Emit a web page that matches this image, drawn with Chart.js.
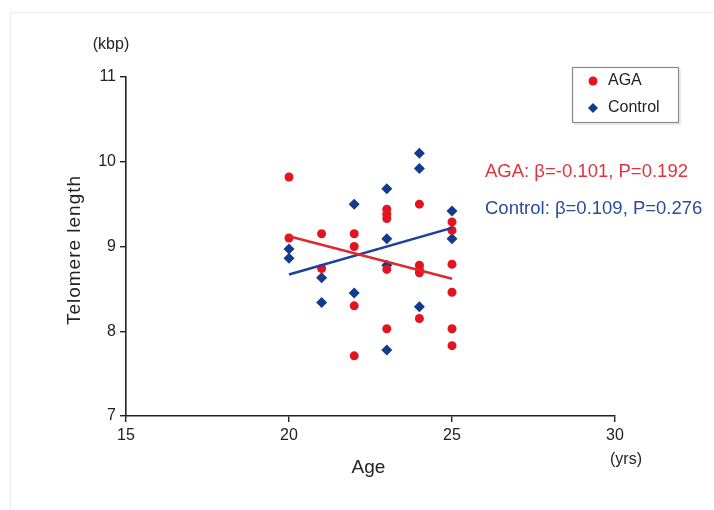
<!DOCTYPE html>
<html>
<head>
<meta charset="utf-8">
<script src="https://cdn.jsdelivr.net/npm/chart.js@4/dist/chart.umd.min.js"></script>
<style>
  html, body { margin: 0; padding: 0; background: #fff; }
  #wrap { position: relative; width: 714px; height: 510px; }
  #frame { position: absolute; left: 10px; top: 12px; right: 0; bottom: 0;
           border-left: 1px solid #ececec; border-top: 1px solid #ececec; }
</style>
</head>
<body>
<div id="wrap">
  <div id="frame"></div>
  <canvas id="telomereChart" width="714" height="510"></canvas>
</div>
<script>
    // data
    const agaAge = [20, 20, 21, 21, 22, 22, 22, 22, 23, 23, 23, 23, 23, 24, 24, 24, 24, 24, 25, 25, 25, 25, 25, 25];
    const agaTL  = [9.82, 9.10, 9.15, 8.74, 9.15, 9.00, 8.30, 7.71, 9.44, 9.38, 9.33, 8.73, 8.03, 9.50, 8.78, 8.73, 8.69, 8.15, 9.29, 9.19, 8.79, 8.46, 8.03, 7.83];
    const ctrlAge = [20, 20, 21, 21, 22, 22, 23, 23, 23, 23, 24, 24, 24, 25, 25];
    const ctrlTL  = [8.97, 8.86, 8.63, 8.34, 9.50, 8.45, 9.68, 9.09, 8.78, 7.78, 10.10, 9.92, 8.29, 9.42, 9.09];

    // regression lines (end points)
    const fitAge = [20, 25];
    const agaFit = [9.12, 8.62];
    const ctrlFit = [8.67, 9.22];

    const xTicks = [15, 20, 25, 30];
    const yTicks = [7, 8, 9, 10, 11];

    const RED = '#e3141f';
    const BLUE = '#143a8e';
    const FONT = '"Liberation Sans", Arial, sans-serif';

    const toPts = (xs, ys) => xs.map((x, i) => ({ x: x, y: ys[i] }));

    // text, legend, annotations
    const decorPlugin = {
        id: 'decor',
        afterDraw(chart) {
            const c = chart.ctx;
            const a = chart.chartArea;
            c.save();
            c.fillStyle = '#222';
            c.textBaseline = 'middle';

            c.font = '16px ' + FONT;
            c.textAlign = 'center';
            c.fillText('(kbp)', 111, 45);
            c.fillText('(yrs)', 626, 460);

            c.font = '19px ' + FONT;
            c.fillText('Age', (a.left + a.right) / 2 - 2, 468);

            c.save();
            c.translate(75, 250);
            c.rotate(-Math.PI / 2);
            c.letterSpacing = '1px';
            c.fillText('Telomere length', 0, 0);
            c.restore();

            // legend box
            c.fillStyle = 'rgba(0,0,0,0.08)';
            c.fillRect(574, 69, 107, 56);
            c.fillStyle = '#fff';
            c.fillRect(572, 67, 107, 56);
            c.strokeStyle = '#8a8a8a';
            c.lineWidth = 1.2;
            c.strokeRect(572.5, 67.5, 106, 55);

            c.fillStyle = RED;
            c.beginPath();
            c.arc(593, 81, 4.5, 0, Math.PI * 2);
            c.fill();
            c.fillStyle = BLUE;
            c.beginPath();
            c.moveTo(593, 103); c.lineTo(598, 108); c.lineTo(593, 113); c.lineTo(588, 108);
            c.closePath();
            c.fill();

            c.fillStyle = '#222';
            c.textAlign = 'left';
            c.font = '16px ' + FONT;
            c.fillText('AGA', 608, 81);
            c.fillText('Control', 608, 108);

            // stats
            c.font = '18.5px ' + FONT;
            c.fillStyle = '#e2323c';
            c.fillText('AGA: β=-0.101, P=0.192', 485, 172);
            c.fillStyle = '#2a4a9c';
            c.fillText('Control: β=0.109, P=0.276', 485, 209);
            c.restore();
        }
    };

    const axisStyle = {
        grid: { display: true, drawOnChartArea: false, drawTicks: true, tickLength: 6, color: '#222', lineWidth: 1.4 },
        border: { display: true, color: '#222', width: 1.6 }
    };

    const telomereElement = document.getElementById('telomereChart');
    if (telomereElement) {
        const ctx = telomereElement.getContext('2d');
        new Chart(ctx, {
            type: 'scatter',
            data: {
                datasets: [
                    {
                        type: 'line',
                        label: 'AGA fit',
                        data: toPts(fitAge, agaFit),
                        borderColor: '#dd2a30',
                        borderWidth: 2.5,
                        pointRadius: 0,
                        fill: false,
                        order: 0
                    },
                    {
                        type: 'line',
                        label: 'Control fit',
                        data: toPts(fitAge, ctrlFit),
                        borderColor: '#1d3f9e',
                        borderWidth: 2.5,
                        pointRadius: 0,
                        fill: false,
                        order: 0
                    },
                    {
                        label: 'Control',
                        data: toPts(ctrlAge, ctrlTL),
                        pointStyle: 'rectRot',
                        pointRadius: 5.5,
                        backgroundColor: BLUE,
                        borderColor: BLUE,
                        borderWidth: 0,
                        order: 2
                    },
                    {
                        label: 'AGA',
                        data: toPts(agaAge, agaTL),
                        pointStyle: 'circle',
                        pointRadius: 4.5,
                        backgroundColor: RED,
                        borderColor: RED,
                        borderWidth: 0,
                        order: 1
                    }
                ]
            },
            options: {
                responsive: false,
                animation: false,
                layout: { padding: { left: 0, top: 77, right: 99, bottom: 0 } },
                plugins: { legend: { display: false }, tooltip: { enabled: false } },
                scales: {
                    x: {
                        type: 'linear',
                        min: xTicks[0],
                        max: xTicks[xTicks.length - 1],
                        afterBuildTicks: s => { s.ticks = xTicks.map(v => ({ value: v })); },
                        afterFit: s => { s.height = 94; },
                        ticks: { color: '#222', padding: 4, font: { family: FONT, size: 16 } },
                        ...axisStyle
                    },
                    y: {
                        type: 'linear',
                        min: yTicks[0],
                        max: yTicks[yTicks.length - 1],
                        afterBuildTicks: s => { s.ticks = yTicks.map(v => ({ value: v })); },
                        afterFit: s => { s.width = 126; },
                        ticks: { color: '#222', padding: 4, font: { family: FONT, size: 16 } },
                        ...axisStyle
                    }
                }
            },
            plugins: [decorPlugin]
        });
    }
</script>
</body>
</html>
